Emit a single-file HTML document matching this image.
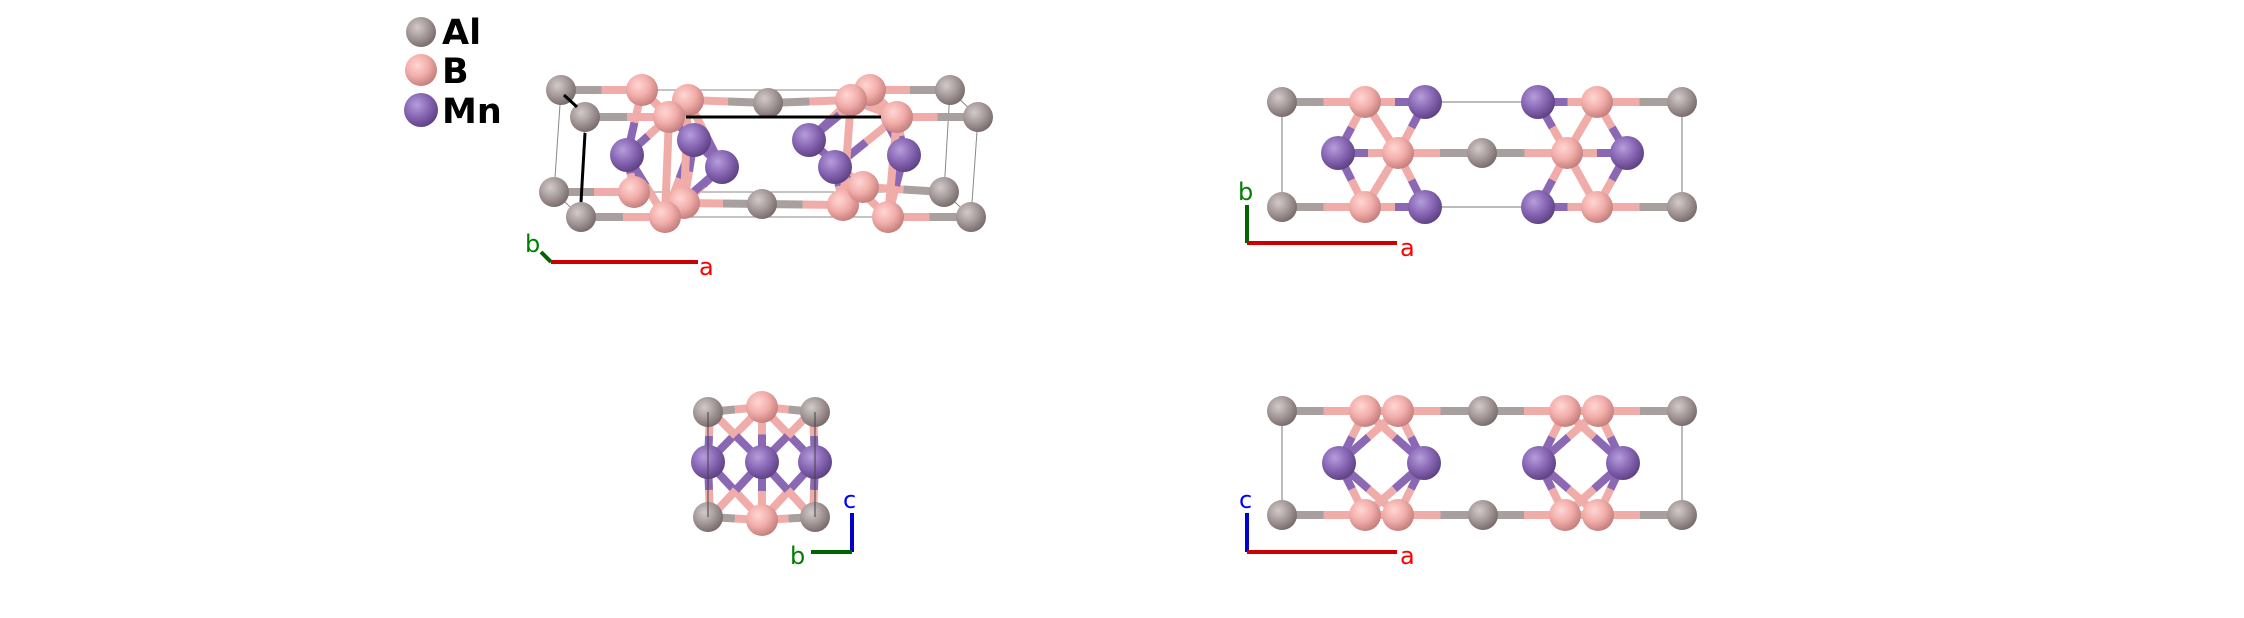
<!DOCTYPE html>
<html><head><meta charset="utf-8">
<style>
html,body{margin:0;padding:0;background:#fff;}
svg{display:block;}
text{font-family:"DejaVu Sans","Liberation Sans",sans-serif;}
</style></head>
<body>
<svg id="s" width="2244" height="618" viewBox="0 0 2244 618" xmlns="http://www.w3.org/2000/svg">
<defs>
<radialGradient id="gAl" cx="38%" cy="35%" r="70%"><stop offset="0" stop-color="#d2cbca"/><stop offset="0.5" stop-color="#a69b9a"/><stop offset="1" stop-color="#736867"/></radialGradient>
<radialGradient id="gB" cx="38%" cy="35%" r="70%"><stop offset="0" stop-color="#ffd6d4"/><stop offset="0.5" stop-color="#f2aeaa"/><stop offset="1" stop-color="#c07a78"/></radialGradient>
<radialGradient id="gMn" cx="38%" cy="35%" r="70%"><stop offset="0" stop-color="#b59edb"/><stop offset="0.5" stop-color="#8a68b6"/><stop offset="1" stop-color="#5a3e80"/></radialGradient>
</defs>
<g id="cell" fill="none" stroke="#777" stroke-width="1"></g>
<g id="bonds"></g>
<g id="atoms"></g>
<g id="over"></g>
<text x="442" y="44" font-size="35" font-weight="bold" fill="#000">Al</text>
<text x="442" y="83" font-size="35" font-weight="bold" fill="#000">B</text>
<text x="442" y="123" font-size="35" font-weight="bold" fill="#000">Mn</text>
<g stroke-width="4" fill="none">
<line x1="541" y1="252" x2="551" y2="262" stroke="#006400"/>
<line x1="551" y1="262" x2="698" y2="262" stroke="#cc0000"/>
<line x1="1247" y1="205" x2="1247" y2="243" stroke="#006400"/>
<line x1="1247" y1="243" x2="1397" y2="243" stroke="#cc0000"/>
<line x1="852" y1="513" x2="852" y2="552" stroke="#0000cc"/>
<line x1="811" y1="552" x2="852" y2="552" stroke="#006400"/>
<line x1="1247" y1="513" x2="1247" y2="552" stroke="#0000cc"/>
<line x1="1247" y1="552" x2="1397" y2="552" stroke="#cc0000"/>
</g>
<g font-size="24">
<text x="525" y="252" fill="#008000">b</text>
<text x="699" y="275" fill="#ff0000">a</text>
<text x="1238" y="200" fill="#008000">b</text>
<text x="1400" y="256" fill="#ff0000">a</text>
<text x="843" y="508" fill="#0000ff">c</text>
<text x="790" y="564" fill="#008000">b</text>
<text x="1239" y="508" fill="#0000ff">c</text>
<text x="1400" y="564" fill="#ff0000">a</text>
</g>
</svg>
<script>
var NS="http://www.w3.org/2000/svg";
var C={Al:"#a8a09f",B:"#f0aca9",Mn:"#8a68b4"};
var R={Al:15,B:16,Mn:17};
function el(g,t,a){var e=document.createElementNS(NS,t);for(var k in a)e.setAttribute(k,a[k]);document.getElementById(g).appendChild(e);return e;}
function bond(a,b){var mx=(a[0]+b[0])/2,my=(a[1]+b[1])/2;
 el("bonds","line",{x1:a[0],y1:a[1],x2:mx,y2:my,stroke:C[a[2]],"stroke-width":8});
 el("bonds","line",{x1:mx,y1:my,x2:b[0],y2:b[1],stroke:C[b[2]],"stroke-width":8});}
function atom(a){el("atoms","circle",{cx:a[0],cy:a[1],r:R[a[2]],fill:"url(#g"+a[2]+")"});}
function line(g,p,w,c){el(g,"polyline",{points:p,fill:"none",stroke:c,"stroke-width":w});}
atom([421,32,"Al"]);atom([421,70,"B"]);atom([421,110,"Mn"]);
// top-left
line("cell","561,90 950,90 944,192 554,192 561,90",1,"#888");
line("cell","585,117 978,117 971,217 581,217 585,117",1,"#888");
line("cell","950,90 978,117",1,"#888");line("cell","944,192 971,217",1,"#888");line("cell","554,192 581,217",1,"#888");
var A1={
a1:[561,90,"Al"],b1:[642,90,"B"],b2:[870,90,"B"],a2:[950,90,"Al"],
a3:[585,117,"Al"],b3:[669,117,"B"],b4:[897,117,"B"],a4:[978,117,"Al"],
b5:[688,100,"B"],a5:[768,103,"Al"],b6:[851,100,"B"],
a6:[554,192,"Al"],b7:[634,192,"B"],a7:[762,204,"Al"],a8:[944,192,"Al"],
a9:[581,217,"Al"],b8:[665,217,"B"],b9:[888,217,"B"],a10:[971,217,"Al"],
b10:[684,203,"B"],b11:[843,205,"B"],b12:[863,187,"B"],
m1:[627,155,"Mn"],m2:[722,167,"Mn"],m3:[809,140,"Mn"],m4:[835,167,"Mn"],m5:[904,155,"Mn"],m6:[694,140,"Mn"]};
[["a1","b1"],["b2","a2"],["a3","b3"],["b4","a4"],["b5","a5"],["a5","b6"],["a6","b7"],["b10","a7"],["a7","b11"],["b12","a8"],["a9","b8"],["b9","a10"],["b1","b3"],["b3","b5"],["b2","b4"],["b6","b4"],
["m1","b3"],["m1","b8"],["m1","b7"],["m1","b1"],["m2","b5"],["m2","b10"],["m2","b3"],["m2","b8"],["m6","b1"],["m6","b10"],["m6","b8"],["b3","b8"],["b5","b10"],
["m3","b6"],["m3","b12"],["m3","b2"],["m4","b4"],["m4","b9"],["m4","b11"],["m5","b4"],["m5","b9"],["m5","b2"],["b4","b9"],["b6","b11"]].forEach(function(p){bond(A1[p[0]],A1[p[1]]);});
["a1","b1","b2","a2","b5","a5","b6","m6","m3","a6","b7","a7","a8","b10","b11","b12","m1","m2","m4","m5","a3","b3","b4","a4","a9","b8","b9","a10"].forEach(function(k){atom(A1[k]);});
line("over","564,95 577,107",3,"#000");line("over","686,117 881,117",3,"#000");line("over","585,133 581,202",3,"#000");
// top-right
line("cell","1282,102 1682,102 1682,207 1282,207 1282,102",1,"#777");
var A2={a1:[1282,102,"Al"],b1:[1365,102,"B"],m1:[1425,102,"Mn"],m2:[1538,102,"Mn"],b2:[1597,102,"B"],a2:[1682,102,"Al"],
a3:[1282,207,"Al"],b3:[1365,207,"B"],m3:[1425,207,"Mn"],m4:[1538,207,"Mn"],b4:[1597,207,"B"],a4:[1682,207,"Al"],
m5:[1338,153,"Mn"],b5:[1398,153,"B"],a5:[1482,153,"Al"],b6:[1567,153,"B"],m6:[1627,153,"Mn"]};
[["a1","b1"],["b1","m1"],["m2","b2"],["b2","a2"],["a3","b3"],["b3","m3"],["m4","b4"],["b4","a4"],["m5","b5"],["b5","a5"],["a5","b6"],["b6","m6"],
["b1","b5"],["b3","b5"],["m5","b1"],["m5","b3"],["m1","b5"],["m3","b5"],["b2","b6"],["b4","b6"],["m6","b2"],["m6","b4"],["m2","b6"],["m4","b6"]].forEach(function(p){bond(A2[p[0]],A2[p[1]]);});
for(var k in A2)atom(A2[k]);
// bottom-left
var A3={a1:[708,412,"Al"],a2:[815,412,"Al"],a3:[708,517,"Al"],a4:[815,517,"Al"],b1:[762,407,"B"],b2:[762,520,"B"],
m1:[708,462,"Mn"],m2:[762,462,"Mn"],m3:[815,462,"Mn"],
c1:[710,410,"B"],c2:[813,410,"B"],c3:[710,518,"B"],c4:[813,518,"B"]};
[["a1","b1"],["b1","a2"],["a3","b2"],["b2","a4"],["c1","m1"],["m1","c3"],["c2","m3"],["m3","c4"],["b1","m2"],["m2","b2"],
["b1","m1"],["b1","m3"],["b2","m1"],["b2","m3"],["c1","m2"],["c2","m2"],["c3","m2"],["c4","m2"]].forEach(function(p){bond(A3[p[0]],A3[p[1]]);});
["b1","b2","a1","a2","a3","a4","m1","m3","m2"].forEach(function(k){atom(A3[k]);});
line("over","708,412 708,517",1,"#444");line("over","815,412 815,517",1,"#444");
// bottom-right
line("cell","1282,411 1682,411 1682,515 1282,515 1282,411",1,"#777");
var A4={};var xs=[[1282,"Al"],[1365,"B"],[1398,"B"],[1483,"Al"],[1565,"B"],[1598,"B"],[1682,"Al"]];
xs.forEach(function(x,i){A4["t"+i]=[x[0],411,x[1]];A4["u"+i]=[x[0],515,x[1]];});
A4.m1=[1339,463,"Mn"];A4.m2=[1424,463,"Mn"];A4.m3=[1539,463,"Mn"];A4.m4=[1623,463,"Mn"];
for(var i=0;i<6;i++){bond(A4["t"+i],A4["t"+(i+1)]);bond(A4["u"+i],A4["u"+(i+1)]);}
[["m1","t1"],["m1","t2"],["m1","u1"],["m1","u2"],["m2","t1"],["m2","t2"],["m2","u1"],["m2","u2"],
["m3","t4"],["m3","t5"],["m3","u4"],["m3","u5"],["m4","t4"],["m4","t5"],["m4","u4"],["m4","u5"]].forEach(function(p){bond(A4[p[0]],A4[p[1]]);});
["t2","u2","t5","u5","t0","t1","t3","t4","t6","u0","u1","u3","u4","u6","m1","m2","m3","m4"].forEach(function(k){atom(A4[k]);});
</script>
</body></html>
